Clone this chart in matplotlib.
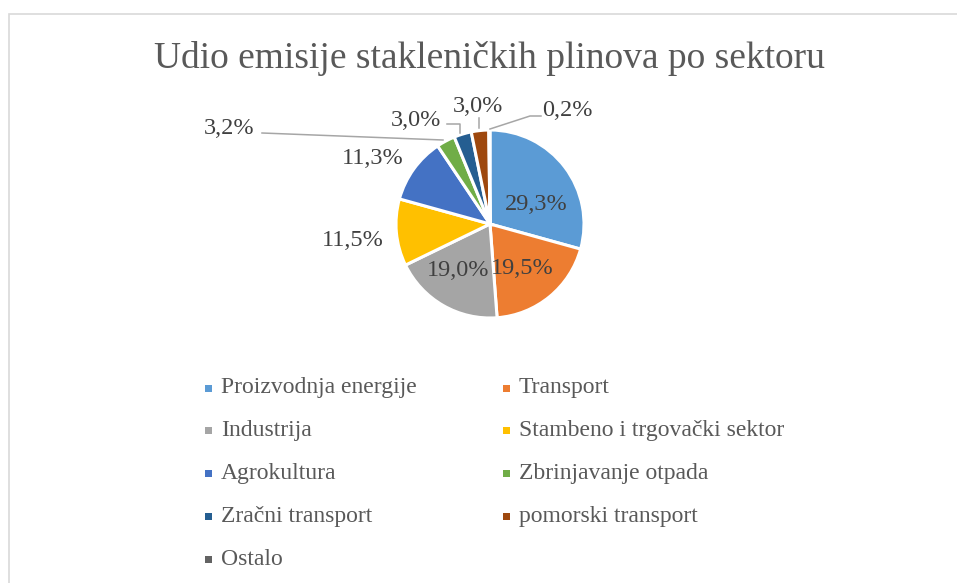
import matplotlib
matplotlib.use("Agg")
import matplotlib.pyplot as plt
from matplotlib.patches import Rectangle
import numpy as np

categories = ["Proizvodnja energije", "Transport", "Industrija",
              "Stambeno i trgovački sektor", "Agrokultura", "Zbrinjavanje otpada",
              "Zračni transport", "pomorski transport", "Ostalo"]
values = [29.3, 19.5, 19.0, 11.5, 11.3, 3.2, 3.0, 3.0, 0.2]
value_labels = ["29,3%", "19,5%", "19,0%", "11,5%", "11,3%", "3,2%", "3,0%", "3,0%", "0,2%"]
colors = ["#5B9BD5", "#ED7D31", "#A5A5A5", "#FFC000", "#4472C4",
          "#70AD47", "#255E91", "#9E480E", "#636363"]
title = "Udio emisije stakleničkih plinova po sektoru"

W, H = 957, 583
fig = plt.figure(figsize=(W / 100, H / 100), dpi=100)
ax = fig.add_axes([0, 0, 1, 1])

serif = ["Liberation Serif", "DejaVu Serif"]

def Y(y):
    return H - y

cx, cy, r = 490, 224, 94
wedges, _ = ax.pie(values, colors=colors, startangle=90, counterclock=False,
                   center=(cx, Y(cy)), radius=r,
                   wedgeprops=dict(edgecolor="white", linewidth=2.2),
                   frame=True)
ax.set_xlim(0, W)
ax.set_ylim(0, H)
ax.set_aspect("equal")
ax.axis("off")

# chart border
ax.add_patch(Rectangle((9, -10), W + 20, Y(14) + 10, fill=False,
                       edgecolor="#D9D9D9", linewidth=1.2))

# data labels (pixel positions from reference)
label_pos = [(536, 204), (522, 268), (458, 270), (353, 240), (373, 159),
             (229, 128), (416, 121), (478, 107), (567, 111)]
for (lx, ly), t in zip(label_pos, value_labels):
    ax.text(lx, Y(ly), t, fontsize=17.5, family=serif, color="#404040",
            ha="center", va="center")

# leader lines
lc = "#A6A6A6"
ax.plot([262, 443], [Y(133), Y(140)], color=lc, lw=1.1)
ax.plot([447, 460, 460], [Y(124), Y(124), Y(133)], color=lc, lw=1.1)
ax.plot([479, 479], [Y(118), Y(128)], color=lc, lw=1.1)
ax.plot([490, 530, 541], [Y(129), Y(116), Y(116)], color=lc, lw=1.1)

# title
ax.text(490, Y(59), title, fontsize=27, family=serif, color="#595959",
        ha="center", va="center")

# legend (row-major, 2 columns)
col_x = [208, 506]
row_y0, row_dy = 388, 42.8
for i, (c, name) in enumerate(zip(colors, categories)):
    row, col = divmod(i, 2)
    mx = col_x[col]
    my = row_y0 + row * row_dy
    ax.add_patch(Rectangle((mx - 3.5, Y(my) - 3.5), 7, 7, facecolor=c, edgecolor="none"))
    ax.text(mx + 13, Y(my), name, fontsize=17, family=serif, color="#595959",
            ha="left", va="center")

fig.savefig("out.png", dpi=100)
